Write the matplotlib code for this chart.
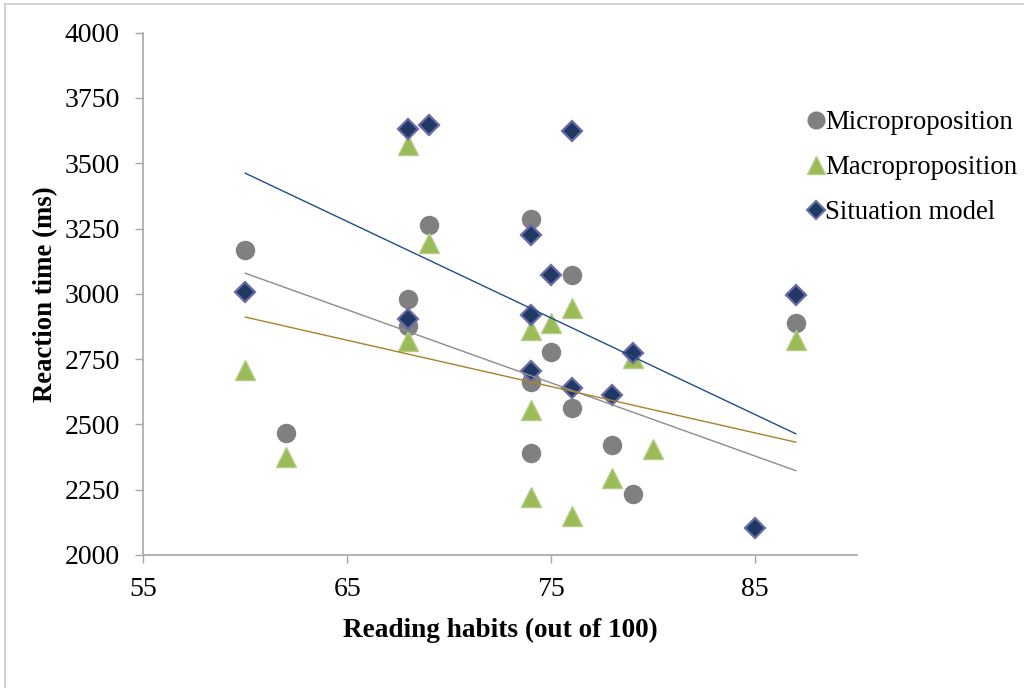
import matplotlib
matplotlib.use("Agg")
import matplotlib.pyplot as plt
from matplotlib.lines import Line2D
import numpy as np

plt.rcParams['font.family'] = ['Liberation Serif', 'DejaVu Serif']

# Reading-habit scores and reaction times per measure
micro_x = [60, 62, 68, 68, 69, 74, 74, 74, 75, 76, 76, 78, 79, 87]
micro_y = [3168, 2468, 2981, 2878, 3264, 3287, 2662, 2390, 2779, 3073, 2563, 2422, 2235, 2888]

macro_x = [60, 62, 68, 68, 69, 74, 74, 74, 75, 76, 76, 78, 79, 80, 87]
macro_y = [2709, 2377, 3569, 2820, 3195, 2860, 2557, 2224, 2890, 2945, 2148, 2296, 2755, 2406, 2825]

situation_x = [60, 68, 68, 69, 74, 74, 74, 75, 76, 76, 78, 79, 85, 87]
situation_y = [3007, 3630, 2903, 3648, 3225, 2918, 2706, 3074, 3623, 2639, 2611, 2773, 2103, 2996]

# Linear trend lines (value at each end of the fitted range)
trend_x = [60, 87]
micro_trend = [3079, 2323]
macro_trend = [2911, 2432]
situation_trend = [3462, 2464]

labels = ["Microproposition", "Macroproposition", "Situation model"]
x_ticks = [55, 65, 75, 85]
y_ticks = [2000, 2250, 2500, 2750, 3000, 3250, 3500, 3750, 4000]

W, H = 1024, 688
fig = plt.figure(figsize=(W / 100, H / 100), dpi=100)
ax = fig.add_axes([143.3 / W, 1 - 555 / H, (857 - 143.3) / W, (555 - 32.7) / H])

grey = "#808080"
green = "#9BBB59"
green_edge = "#B5CC85"
navy = "#1F3864"
navy_edge = "#6A6AA8"

ax.plot(micro_x, micro_y, linestyle="none", marker="o", markersize=13,
        markerfacecolor=grey, markeredgecolor=grey, zorder=3)
ax.plot(macro_x, macro_y, linestyle="none", marker="^", markersize=14.5,
        markerfacecolor=green, markeredgecolor=green_edge, markeredgewidth=1, zorder=4)
ax.plot(situation_x, situation_y, linestyle="none", marker="D", markersize=10.5,
        markerfacecolor=navy, markeredgecolor=navy_edge, markeredgewidth=1.6, zorder=5)

ax.plot(trend_x, micro_trend, color="#8C8C8C", linewidth=1.0, zorder=6)
ax.plot(trend_x, macro_trend, color="#A9802F", linewidth=1.0, zorder=6)
ax.plot(trend_x, situation_trend, color="#1D4F8A", linewidth=1.0, zorder=6)

ax.set_xlim(55, 90)
ax.set_ylim(2000, 4000)
ax.set_xticks(x_ticks)
ax.set_yticks(y_ticks)
ax.tick_params(axis="both", direction="out", length=6, width=1, color="#A6A6A6",
               labelsize=20)
ax.tick_params(axis="y", pad=11)
ax.tick_params(axis="x", pad=10)

for side in ("top", "right"):
    ax.spines[side].set_visible(False)
for side in ("left", "bottom"):
    ax.spines[side].set_color("#A6A6A6")
    ax.spines[side].set_linewidth(1.2)

ax.set_xlabel("Reading habits (out of 100)", fontsize=19.6, fontweight="bold", labelpad=11)
ax.set_ylabel("Reaction time (ms)", fontsize=19.3, fontweight="bold", labelpad=4.5)

handles = [
    Line2D([], [], linestyle="none", marker="o", markersize=12,
           markerfacecolor=grey, markeredgecolor=grey),
    Line2D([], [], linestyle="none", marker="^", markersize=13.5,
           markerfacecolor=green, markeredgecolor=green_edge),
    Line2D([], [], linestyle="none", marker="D", markersize=9,
           markerfacecolor=navy, markeredgecolor=navy_edge, markeredgewidth=1.5),
]
fig.legend(handles, labels, loc="upper left", bbox_to_anchor=(808 / W, 1 - 110 / H),
           frameon=False, fontsize=19.3, handlelength=0.6, handletextpad=0.05,
           labelspacing=0.75, borderpad=0, borderaxespad=0)

# Thin frame around the chart area
fig.add_artist(Line2D([5 / W, 5 / W], [0, 1 - 4 / H], color="#C8C8C8", linewidth=1.2))
fig.add_artist(Line2D([5 / W, 1], [1 - 4 / H, 1 - 4 / H], color="#C8C8C8", linewidth=1.2))

fig.savefig("out.png", dpi=100)
